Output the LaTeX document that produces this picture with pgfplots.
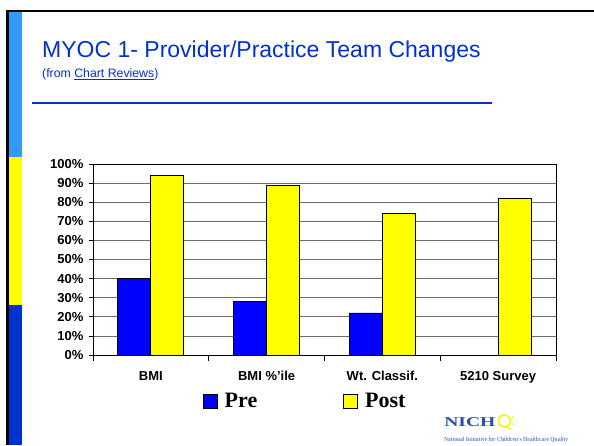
\documentclass[border=0pt]{standalone}
\usepackage{fontspec}
\setmainfont{Liberation Sans}
\newfontfamily\timesfont{Liberation Serif}
\usepackage{xcolor}
\usepackage{pgfplots}
\pgfplotsset{compat=1.18}
\definecolor{titleblue}{RGB}{0,51,204}
\definecolor{stripelight}{RGB}{51,153,255}
\definecolor{stripeyellow}{RGB}{255,255,0}
\definecolor{stripedark}{RGB}{0,51,204}
\definecolor{precol}{RGB}{0,0,255}
\definecolor{postcol}{RGB}{255,255,0}
\definecolor{logoblue}{RGB}{40,80,170}
\definecolor{gridgray}{RGB}{110,110,110}

\begin{document}
\begin{tikzpicture}[x=1pt,y=1pt]
\useasboundingbox (0,0) rectangle (594,-445);
% slide frame and coloured strip
\fill[white] (0,0) rectangle (594,-445);
\draw[black,line width=2.5pt] (7.5,-445) -- (7.5,-11) -- (594,-11);
\fill[stripelight] (9,-12.2) rectangle (22,-157);
\fill[stripeyellow] (9,-157) rectangle (22,-305);
\fill[stripedark] (9,-305) rectangle (22,-445);
% title block
\node[anchor=base west,inner sep=0,text=titleblue,font=\fontsize{23}{27}\selectfont] at (42,-57) {MYOC 1- Provider/Practice Team Changes};
\node[anchor=base west,inner sep=0,text=titleblue,font=\fontsize{12.3}{14}\selectfont] at (42,-77.5) {(from \underline{Chart Reviews})};
\draw[titleblue,line width=2pt] (32,-102.5) -- (492,-102.5);

\begin{axis}[
    at={(93pt,-355pt)}, anchor=south west,
    scale only axis,
    width=463pt, height=191pt,
    ybar,
    bar width=33pt,
    xmin=-0.5, xmax=3.5,
    ymin=0, ymax=100,
    ytick={0,10,...,100},
    yticklabel={\pgfmathprintnumber{\tick}\%},
    /pgf/number format/assume math mode=true,
    xtick={0,1,2,3},
    xticklabels={BMI, BMI \%'ile, Wt. Classif., 5210 Survey},
    minor xtick={-0.5,0.5,1.5,2.5,3.5},
    major x tick style={draw=none},
    tick align=outside,
    major tick length=4pt,
    minor tick length=6pt,
    ytick pos=left,
    xtick pos=bottom,
    ymajorgrids,
    grid style={gridgray,line width=0.8pt},
    axis line style={black,line width=0.8pt},
    tick style={black,line width=0.8pt},
    ticklabel style={font=\fontsize{13}{15}\selectfont\bfseries},
    xticklabel style={yshift=-9pt},
    yticklabel style={xshift=-2pt},
    legend columns=2,
    legend style={at={(0.237,-0.241)}, anchor=west, draw=none, fill=none,
        inner sep=0pt,
        font=\timesfont\fontsize{22}{24}\selectfont\bfseries,
        /tikz/every even column/.append style={column sep=84pt}},
    legend image code/.code={\draw[#1,draw=black,line width=0.8pt] (0pt,-7pt) rectangle (14pt,7pt);\path (19pt,0pt);},
]
\addplot[fill=precol, draw=black, line width=0.8pt, bar shift=-16.5pt] coordinates {
    (0,40) (1,28) (2,22) (3,0)
};
\addlegendentry{Pre}
\addplot[fill=postcol, draw=black, line width=0.8pt, bar shift=16.5pt] coordinates {
    (0,94) (1,89) (2,74) (3,82)
};
\addlegendentry{Post}
\end{axis}

% NICHQ logo
\node[anchor=base west,inner sep=0,text=logoblue,font=\timesfont\bfseries\fontsize{13.5}{15}\selectfont,xscale=1.45] at (444,-426.5) {NICH};
\draw[stripeyellow!90!orange,line width=1.6pt] (504.5,-421) circle [radius=6];
\draw[stripeyellow!90!orange,line width=1.4pt] (506,-427) -- (511,-429);
\fill[stripeyellow!90!orange] (513,-417) circle [radius=1];
\fill[stripeyellow!90!orange] (513,-424) circle [radius=1];
\node[anchor=base west,inner sep=0,text=logoblue!70,font=\timesfont\bfseries] at (444,-441) {\resizebox{124pt}{4.5pt}{National Initiative for Children's Healthcare Quality}};
\end{tikzpicture}
\end{document}
